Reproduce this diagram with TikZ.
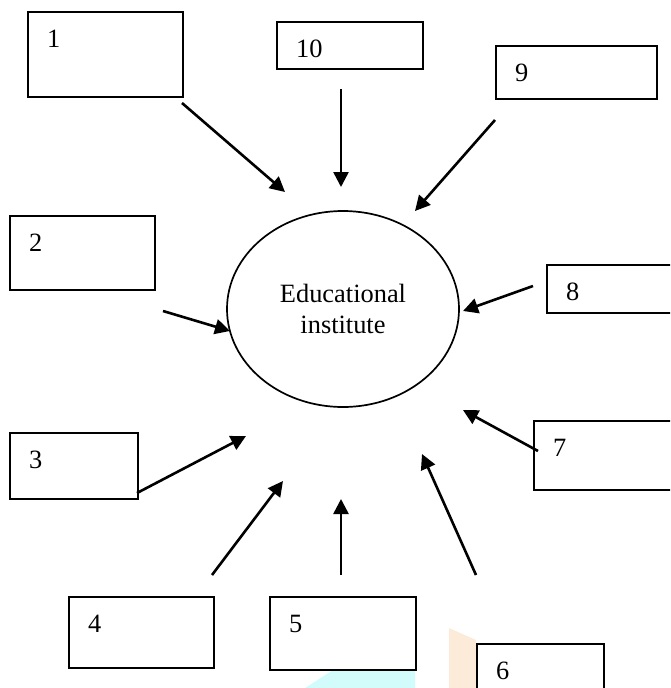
\documentclass[tikz,border=0pt]{standalone}
\usepackage{fontspec}
\setmainfont{Liberation Serif}
\usepackage{xcolor}
\usetikzlibrary{arrows.meta}
\usetikzlibrary{shapes.geometric}
\definecolor{cyanmark}{HTML}{D2FCFC}
\definecolor{peachmark}{HTML}{FDEBDA}

\begin{document}
\begin{tikzpicture}[x=1pt,y=-1pt,
		font=\fontsize{26.4}{31}\selectfont,
		numbox/.style={draw, rectangle, line width=1.8pt, inner sep=0pt, anchor=north west},
		feed/.style={line width=2.6pt, -{Triangle[length=15pt,width=15pt]}}]
		% Page
		\clip (0,0) rectangle (670,688);
		
		% Marks at the foot of the page
		\fill[cyanmark] (305,688) -- (333,670) -- (415,670) -- (415,688) -- cycle;
		\fill[peachmark] (449,688) -- (449,628) -- (476,640) -- (476,688) -- cycle;
		
		% Institute in the middle
		\node[draw, ellipse, line width=1.7pt, inner sep=0pt,
		minimum width=232pt, minimum height=196pt, align=center] (inst) at (343,309)
		{Educational\\institute};
		
		% Numbered boxes: number/left/top/right/bottom
		\foreach \n/\xa/\ya/\xb/\yb in {1/27/11/182/96, 10/276/21/422/68,
			9/495/45/656/98, 2/9/215/154/289, 3/9/432/137/498,
			8/546/264/680/312, 7/533/420/680/489, 4/68/596/213/667,
			5/269/596/415/669, 6/476/643/603/700}{
			\pgfmathsetmacro{\w}{\xb-\xa}
			\pgfmathsetmacro{\h}{\yb-\ya}
			\node[numbox, minimum width=\w pt, minimum height=\h pt] (box\n) at (\xa,\ya) {};
			\node[anchor=base west, inner sep=0pt] (num\n) at (\xa+20,\ya+36.5) {\n};
		}
		
		% Arrows pointing at the institute
		\foreach \n/\sx/\sy/\tx/\ty in {1/182/103/285/192, 10/341/89/341/187,
			9/495/120/415/211, 2/163/311/230/331, 3/137/493/246/436,
			8/533/286/463/311, 7/538/451/463/410, 6/476/575/422/454,
			5/341/575/341/499, 4/212/575/283/481}{
			\coordinate (from\n) at (\sx,\sy);
			\coordinate (to\n) at (\tx,\ty);
			\draw[feed] (from\n) -- (to\n);
		}
	\end{tikzpicture}
\end{document}
